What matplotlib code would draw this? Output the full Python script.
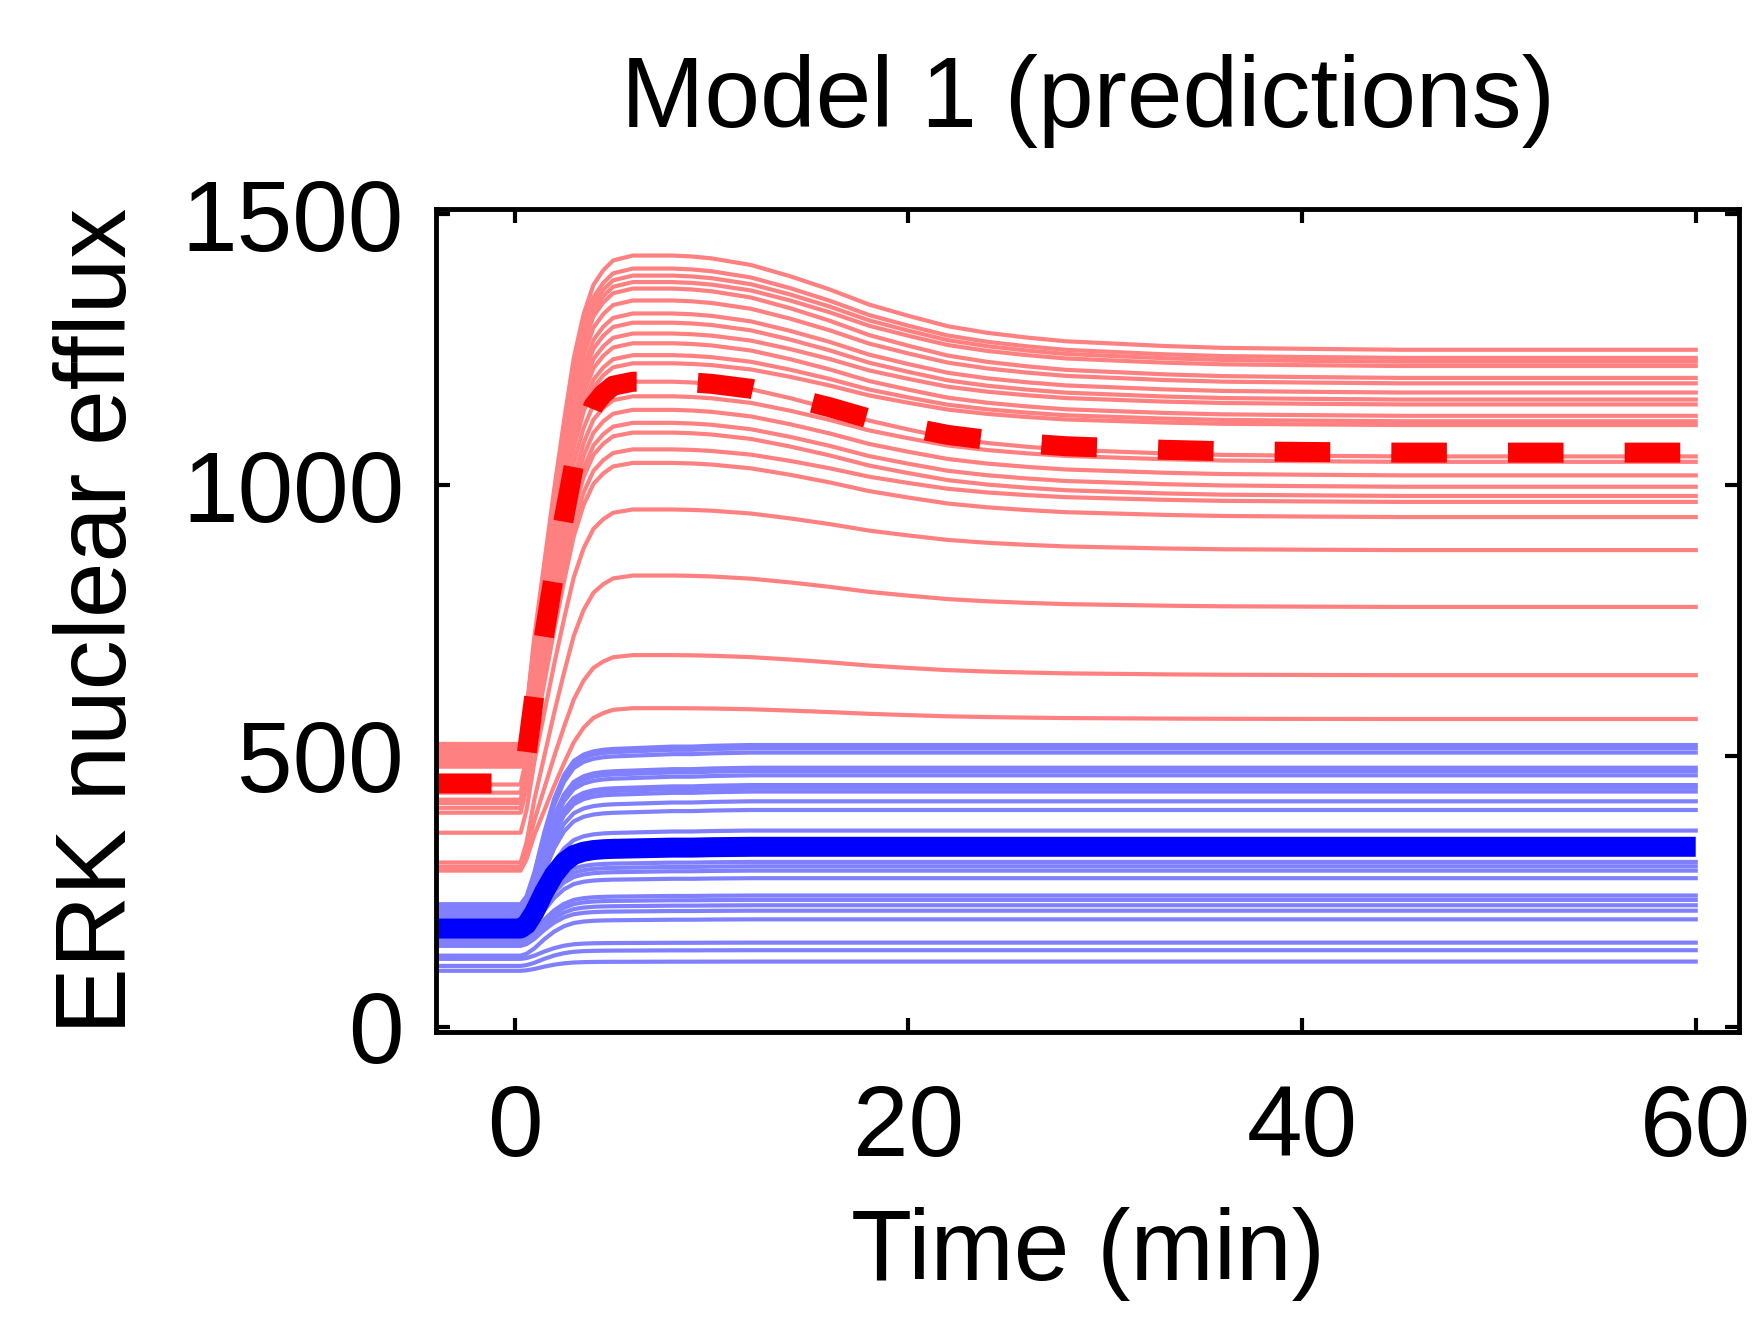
import matplotlib

matplotlib.use("Agg")
import matplotlib.pyplot as plt
import numpy as np

# sample times (min) and shared response shapes
TIME_MIN = [-4, 0, 0.3, 0.6, 1, 1.5, 2, 2.5, 3, 3.5, 4, 4.5, 5, 6, 7, 8, 9, 10,
            12, 14, 16, 18, 20, 22, 24, 26, 28, 30, 33, 36, 40, 45, 50, 60]
RED_RISE = [0, 0, 0, 0.07, 0.22, 0.37, 0.52, 0.66, 0.79, 0.88, 0.94, 0.97, 0.99,
            1, 1, 1, 1, 1, 1, 1, 1, 1, 1, 1, 1, 1, 1, 1, 1, 1, 1, 1, 1, 1]
RED_SETTLE = [0, 0, 0, 0, 0, 0, 0, 0, 0, 0, 0, 0, 0, 0, 0, 0, 0.01, 0.03,
              0.1, 0.22, 0.36, 0.52, 0.64, 0.75, 0.82, 0.87, 0.91, 0.93, 0.96, 0.98, 0.99, 1, 1, 1]
BLUE_RISE = [0, 0, 0, 0.05, 0.2, 0.45, 0.66, 0.81, 0.9, 0.94, 0.96, 0.97, 0.975,
             0.98, 0.985, 0.99, 0.99, 0.995, 1, 1, 1, 1, 1, 1, 1, 1, 1, 1, 1, 1, 1, 1, 1, 1]

# red ensemble: level before stimulation, peak, steady state
RED_BASE = [522, 519, 516, 513, 510, 506, 503, 499, 495, 491, 487, 483, 480,
            447, 432, 419, 413, 404, 395, 358, 303, 295, 288]
RED_PEAK = [1424, 1400, 1387, 1375, 1363, 1341, 1317, 1300, 1280, 1262, 1240, 1225,
            1191, 1164, 1139, 1115, 1097, 1066, 1041, 955, 833, 686, 588]
RED_FINAL = [1250, 1235, 1228, 1220, 1198, 1188, 1171, 1158, 1149, 1128, 1118, 1111,
             1053, 1043, 1018, 997, 980, 969, 941, 880, 775, 649, 568]

# blue ensemble: level before stimulation, steady state
BLUE_BASE = [226, 223, 220, 217, 214, 211, 208, 205, 201, 196, 191, 186,
             181, 176, 171, 166, 161, 156, 153, 149, 131, 125, 112, 103]
BLUE_FINAL = [520, 514, 506, 478, 472, 464, 446, 441, 434, 416, 400, 362,
              304, 296, 288, 274, 242, 234, 224, 214, 198, 155, 141, 120]

# highlighted curves
RED_MAIN = (449, 1191, 1060)
BLUE_MAIN = (181, 332)

X_TICKS = [0, 20, 40, 60]
Y_TICKS = [0, 500, 1000, 1500]

FONT = ["Liberation Sans", "DejaVu Sans"]
LIGHT_RED = "#FF8080"
LIGHT_BLUE = "#8080FF"


def response(base, peak, final, rise, settle):
    rise = np.asarray(rise, dtype=float)
    settle = np.asarray(settle, dtype=float)
    return base + (peak - base) * rise - (peak - final) * settle


def main() -> None:
    plt.rcParams["font.family"] = FONT
    plt.rcParams["lines.scale_dashes"] = False

    fig = plt.figure(figsize=(17.63, 13.21), dpi=100)
    ax = fig.add_axes([0.2473, 0.2188, 0.7391, 0.6230])

    t = np.asarray(TIME_MIN, dtype=float)

    for base, peak, final in zip(RED_BASE, RED_PEAK, RED_FINAL):
        ax.plot(t, response(base, peak, final, RED_RISE, RED_SETTLE),
                color=LIGHT_RED, linewidth=3, solid_joinstyle="round")
    for base, final in zip(BLUE_BASE, BLUE_FINAL):
        ax.plot(t, response(base, final, final, BLUE_RISE, RED_SETTLE),
                color=LIGHT_BLUE, linewidth=3, solid_joinstyle="round")

    ax.plot(t, response(*RED_MAIN, RED_RISE, RED_SETTLE), color="#FF0000",
            linewidth=14.4, dashes=(40, 44), dash_capstyle="butt")
    ax.plot(t, response(BLUE_MAIN[0], BLUE_MAIN[1], BLUE_MAIN[1], BLUE_RISE, RED_SETTLE),
            color="#0000FF", linewidth=14.4, solid_capstyle="butt")

    ax.set_xlim(-4, 62.2)
    ax.set_ylim(-10, 1510)
    ax.set_xticks(X_TICKS)
    ax.set_yticks(Y_TICKS)
    ax.tick_params(direction="in", top=True, right=True, length=10, width=3,
                   labelsize=72)
    ax.tick_params(axis="x", pad=37)
    ax.tick_params(axis="y", pad=23)
    for spine in ax.spines.values():
        spine.set_linewidth(3.5)

    ax.set_title("Model 1 (predictions)", fontsize=72, pad=59)
    ax.set_xlabel("Time (min)", fontsize=72)
    ax.xaxis.set_label_coords(0.5, -0.2126)
    ax.set_ylabel("ERK nuclear efflux", fontsize=72)
    ax.yaxis.set_label_coords(-0.222, 0.5)

    fig.savefig("out.png", dpi=100, facecolor="white")
    plt.close(fig)


if __name__ == "__main__":
    main()
